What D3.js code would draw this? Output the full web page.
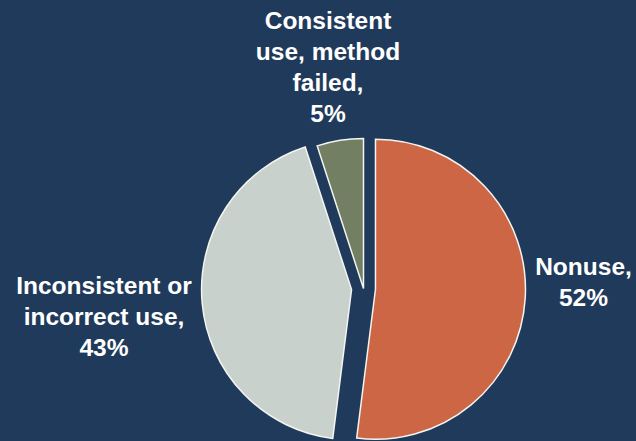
<!DOCTYPE html>
<html>
<head>
<meta charset="utf-8">
<script src="https://cdn.jsdelivr.net/npm/d3@7"></script>
<style>
  html, body { margin: 0; padding: 0; background: #1f3a5a; }
  svg { display: block; }
</style>
</head>
<body>
<script>
// Outcome categories, clockwise from 12 o'clock
const categories = ["Nonuse", "Inconsistent or incorrect use", "Consistent use, method failed"];
const shares = [52, 43, 5];
// Wrapped label text for each category (percentage line is appended from shares)
const labelLines = [
  ["Nonuse,"],
  ["Inconsistent or", "incorrect use,"],
  ["Consistent", "use, method", "failed,"]
];

// Styling and layout
const colors = ["#cc6644", "#c9d1cc", "#737f63"];
const W = 636, H = 441;
const cx = 363.5, cy = 288.5, radius = 150;
const explode = [12, 12, 0];
// label block anchor (center x, first baseline) relative to pie center
const labelOffset = [[220, -14], [-259.5, 5], [-35.5, -260]];
const lineHeight = 31;

const svg = d3.select("body").append("svg")
  .attr("width", W).attr("height", H);

svg.append("rect").attr("width", W).attr("height", H).attr("fill", "#1f3a5a");

const pie = d3.pie().sort(null).value(d => d)(shares);
const arc = d3.arc().innerRadius(0).outerRadius(radius);

const g = svg.append("g").attr("transform", `translate(${cx},${cy})`);

g.selectAll("path.slice")
  .data(pie)
  .join("path")
  .attr("class", "slice")
  .attr("d", arc)
  .attr("fill", (d, i) => colors[i])
  .attr("stroke", "#f4f4f0")
  .attr("stroke-width", 1.5)
  .attr("stroke-linejoin", "miter")
  .attr("transform", (d, i) => {
    const mid = (d.startAngle + d.endAngle) / 2;
    return `translate(${Math.sin(mid) * explode[i]},${-Math.cos(mid) * explode[i]})`;
  });

const labels = g.selectAll("text.label")
  .data(pie)
  .join("text")
  .attr("class", "label")
  .attr("text-anchor", "middle")
  .attr("fill", "#ffffff")
  .attr("font-family", "'Liberation Sans', Arial, sans-serif")
  .attr("font-weight", "bold")
  .attr("font-size", 24.5)
  .attr("transform", (d, i) => `translate(${labelOffset[i][0]},${labelOffset[i][1]})`);

labels.each(function (d, i) {
  const lines = labelLines[i].concat([`${shares[i]}%`]);
  d3.select(this).selectAll("tspan")
    .data(lines)
    .join("tspan")
    .attr("x", 0)
    .attr("y", (l, k) => k * lineHeight)
    .text(l => l);
});
</script>
</body>
</html>
